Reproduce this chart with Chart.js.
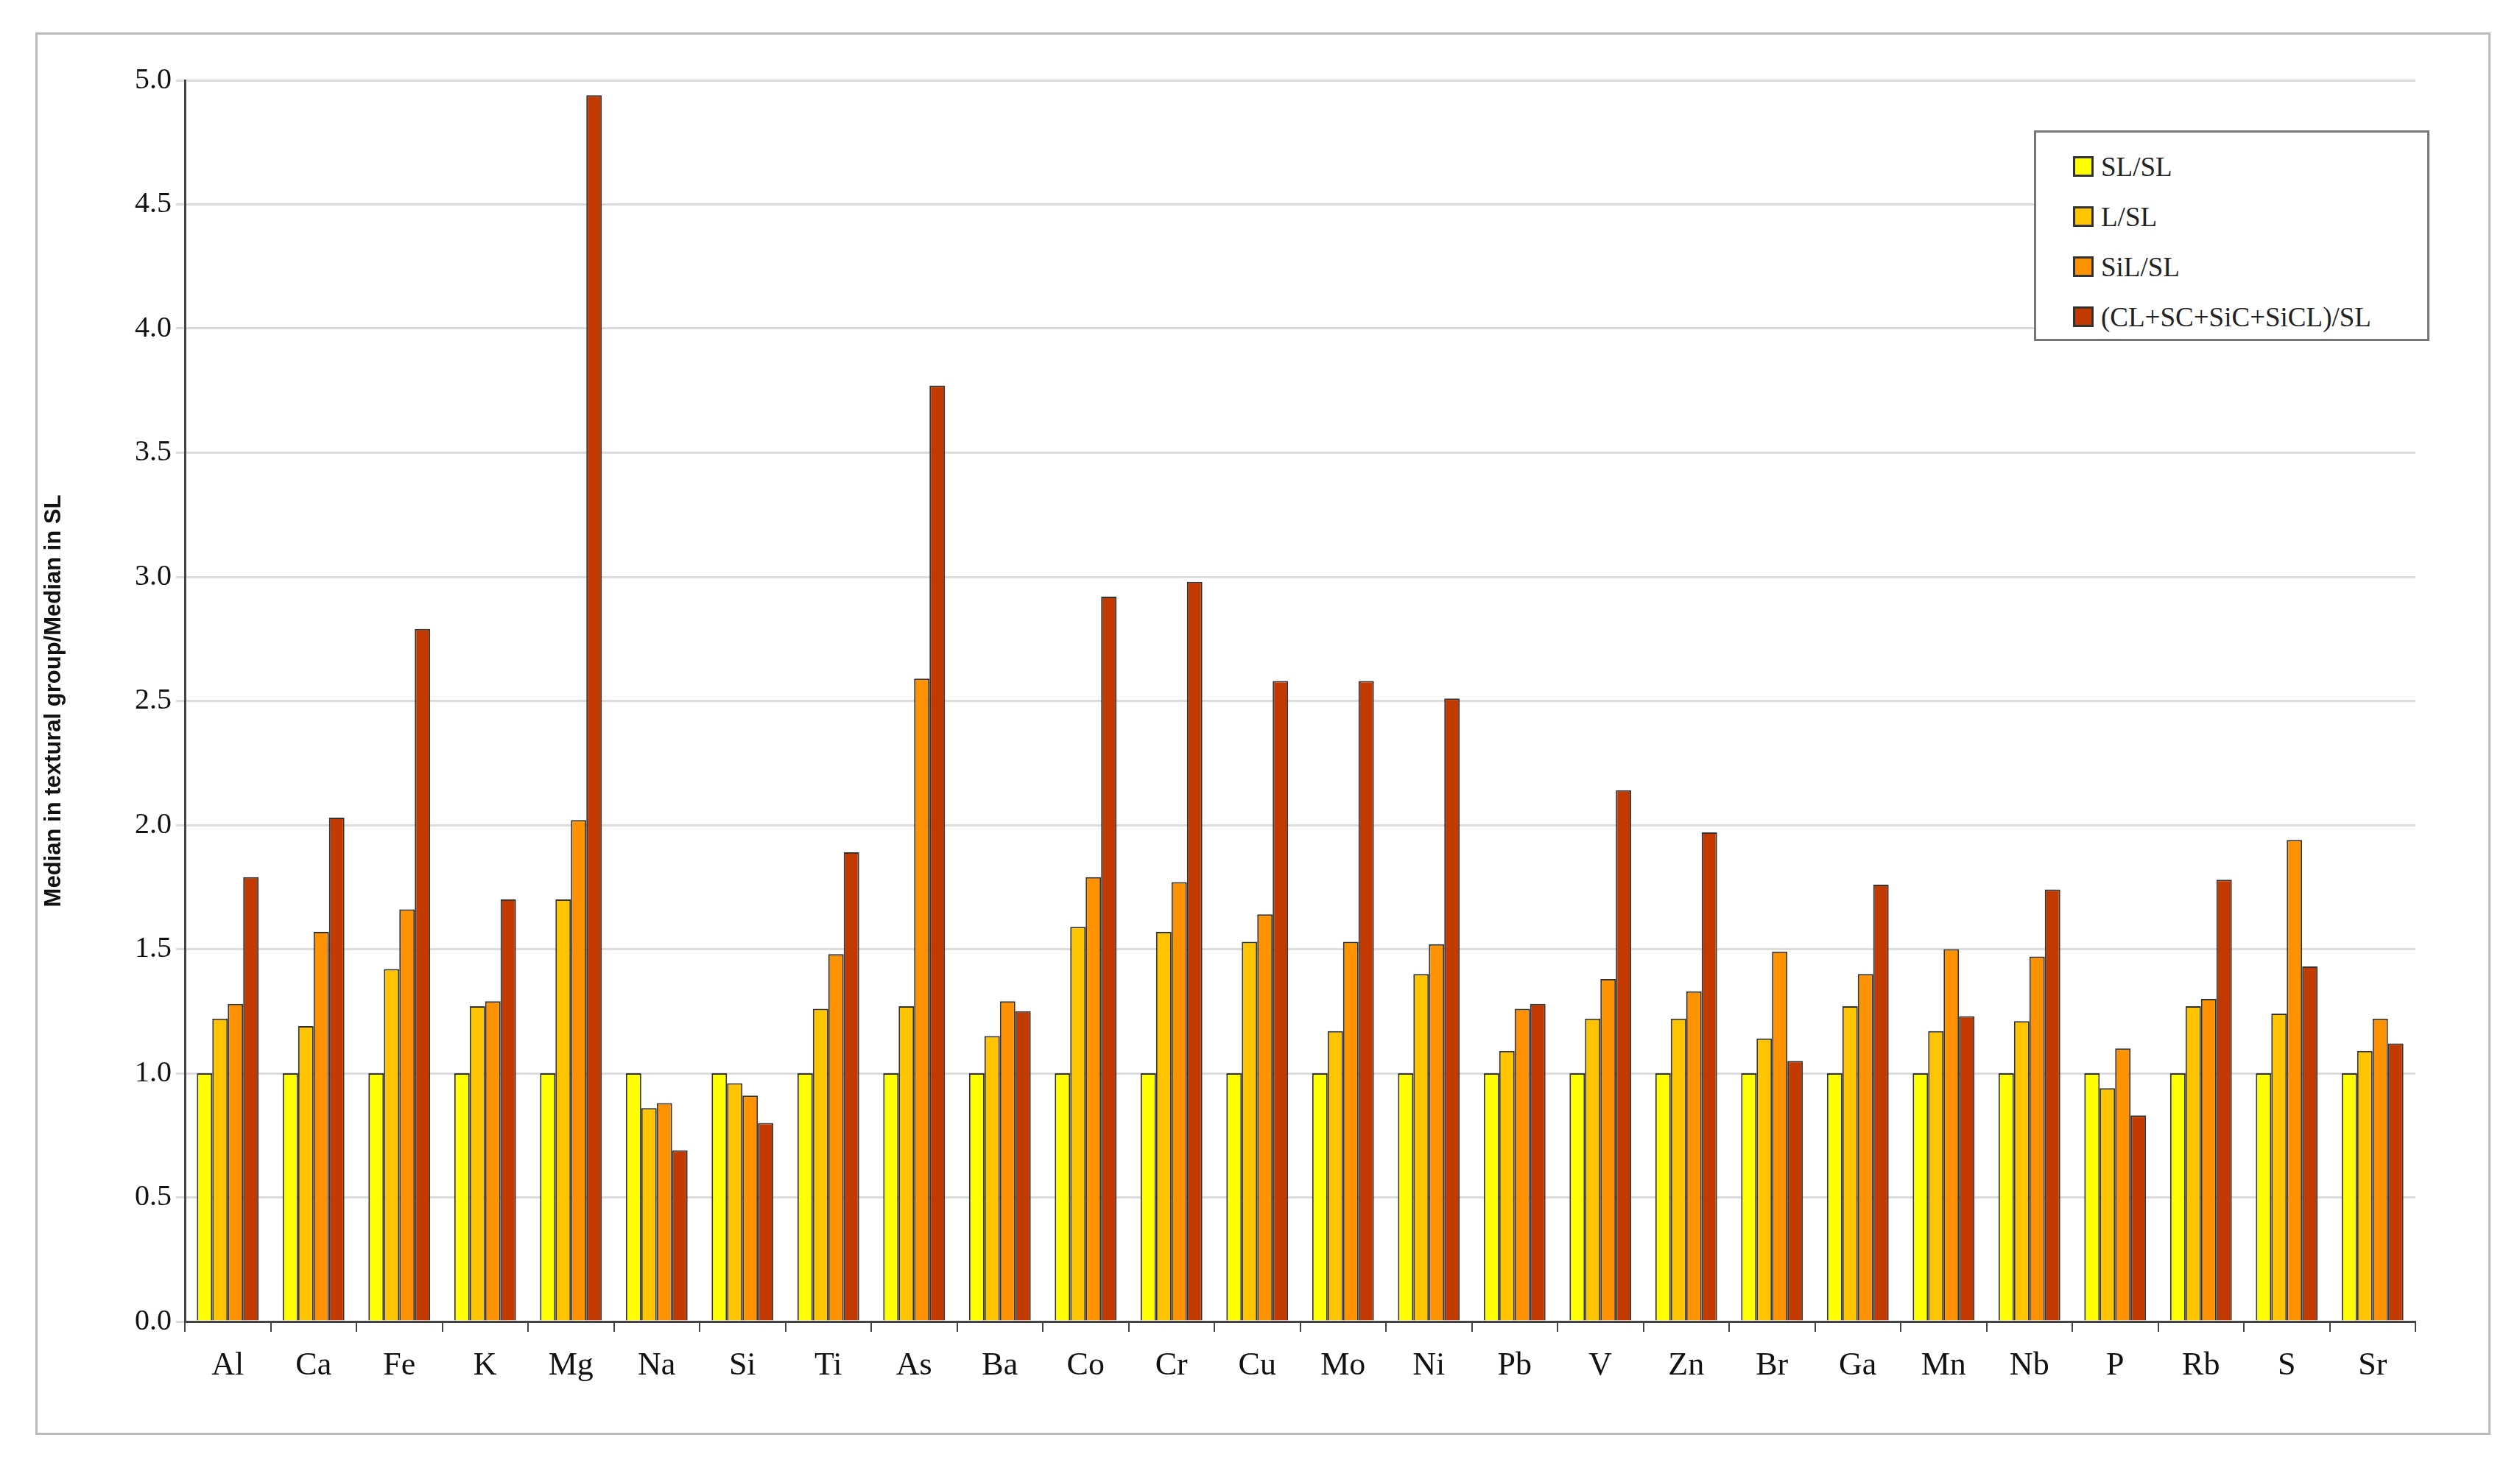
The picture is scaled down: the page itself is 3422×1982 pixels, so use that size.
<!DOCTYPE html>
<html>
<head>
<meta charset="utf-8">
<script src="https://cdn.jsdelivr.net/npm/chart.js@4"></script>
<style>
  body { margin: 0; background: #fff; width: 3422px; height: 1982px; position: relative; }
  #frame { position: absolute; left: 48px; top: 44px; width: 3334px; height: 1904px; border: 3px solid #bbb; box-sizing: border-box; }
  #legend { position: absolute; left: 2762px; top: 177px; width: 537px; height: 286px; border: 3px solid #777; box-sizing: border-box; background: #fff;
    font-family: "Liberation Serif", serif; font-size: 37px; color: #222; padding: 12px 0 0 50px; }
  #legend div { height: 68px; display: flex; align-items: center; }
  #legend span.sw { width: 22px; height: 22px; border: 3px solid #333; margin-right: 10px; display: inline-block; }
</style>
</head>
<body>
<div id="frame"><canvas id="chart"></canvas></div>
<div id="legend"></div>
<script>
const elements = ['Al','Ca','Fe','K','Mg','Na','Si','Ti','As','Ba','Co','Cr','Cu','Mo','Ni','Pb','V','Zn','Br','Ga','Mn','Nb','P','Rb','S','Sr'];
const slsl  = [1,1,1,1,1,1,1,1,1,1,1,1,1,1,1,1,1,1,1,1,1,1,1,1,1,1];
const lsl   = [1.22,1.19,1.42,1.27,1.70,0.86,0.96,1.26,1.27,1.15,1.59,1.57,1.53,1.17,1.40,1.09,1.22,1.22,1.14,1.27,1.17,1.21,0.94,1.27,1.24,1.09];
const silsl = [1.28,1.57,1.66,1.29,2.02,0.88,0.91,1.48,2.59,1.29,1.79,1.77,1.64,1.53,1.52,1.26,1.38,1.33,1.49,1.40,1.50,1.47,1.10,1.30,1.94,1.22];
const clsl  = [1.79,2.03,2.79,1.70,4.94,0.69,0.80,1.89,3.77,1.25,2.92,2.98,2.58,2.58,2.51,1.28,2.14,1.97,1.05,1.76,1.23,1.74,0.83,1.78,1.43,1.12];
const yTicks = [0,0.5,1,1.5,2,2.5,3,3.5,4,4.5,5];

const seriesNames = ['SL/SL','L/SL','SiL/SL','(CL+SC+SiC+SiCL)/SL'];
const seriesColors = ['#ffff00','#ffc400','#ff9200','#c23a00'];
const seriesData = [slsl, lsl, silsl, clsl];

const legendEl = document.getElementById('legend');
seriesNames.forEach((n, i) => {
  const row = document.createElement('div');
  row.innerHTML = `<span class="sw" style="background:${seriesColors[i]}"></span>${n}`;
  legendEl.appendChild(row);
});

const ctx = document.getElementById('chart').getContext('2d');
new Chart(ctx, {
  type: 'bar',
  data: {
    labels: elements,
    datasets: seriesData.map((d, i) => ({
      label: seriesNames[i],
      data: d,
      backgroundColor: seriesColors[i],
      borderColor: '#333',
      borderWidth: 2,
      barPercentage: 1,
      categoryPercentage: 0.72
    }))
  },
  options: {
    responsive: true,
    maintainAspectRatio: false,
    animation: false,
    layout: { padding: { top: 62, right: 99, left: 0, bottom: 0 } },
    plugins: { legend: { display: false }, tooltip: { enabled: false } },
    scales: {
      x: {
        offset: true,
        grid: { offset: true, drawOnChartArea: false, tickLength: 14, color: '#444', lineWidth: 2 },
        border: { color: '#444', width: 3 },
        ticks: { color: '#111', font: { family: 'Liberation Serif', size: 44 }, padding: 20 },
        afterFit: s => { s.height = 151; }
      },
      y: {
        min: 0, max: 5,
        afterBuildTicks: s => { s.ticks = yTicks.map(v => ({ value: v })); },
        grid: { color: '#dcdcdc', lineWidth: 3, tickLength: 12 },
        border: { color: '#444', width: 3 },
        ticks: { color: '#111', font: { family: 'Liberation Serif', size: 40 }, padding: 6, callback: v => v.toFixed(1) },
        title: { display: true, text: 'Median in textural group/Median in SL', color: '#111', font: { family: 'Liberation Sans', size: 31, weight: 'bold' }, padding: 4 },
        afterFit: s => { s.width = 200; }
      }
    }
  }
});
</script>
</body>
</html>
